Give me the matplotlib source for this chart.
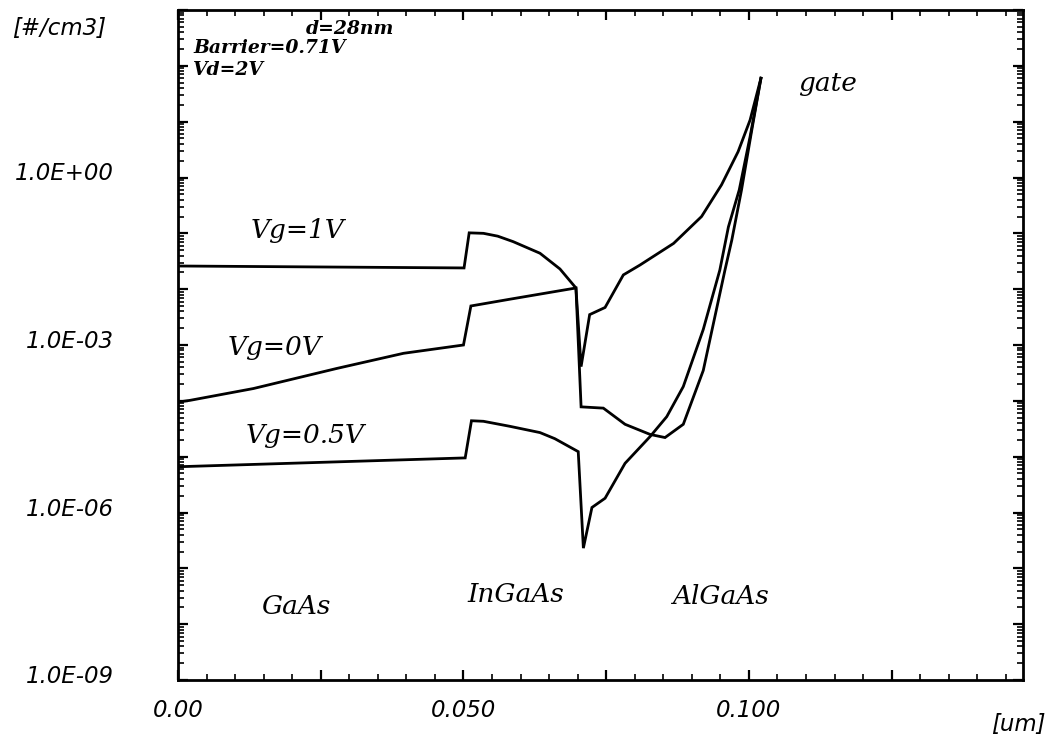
import matplotlib
matplotlib.use("Agg")
import matplotlib.pyplot as plt
from matplotlib.ticker import FixedLocator, FixedFormatter, MultipleLocator, LogLocator, NullFormatter
from matplotlib.transforms import ScaledTranslation

# ---- data (position in um, electron density in #/cm3) ----
x_vg1 = [0.0, 0.0501, 0.0510, 0.0535, 0.0560, 0.0587, 0.0634, 0.0669, 0.0697,
         0.0706, 0.0721, 0.0748, 0.0780, 0.0809, 0.0868, 0.0917, 0.0952, 0.0981,
         0.1002, 0.1021]
n_vg1 = [2.6e-2, 2.4e-2, 1.02e-1, 1.0e-1, 8.9e-2, 7.1e-2, 4.4e-2, 2.3e-2, 1.05e-2,
         4.1e-4, 3.5e-3, 4.7e-3, 1.8e-2, 2.7e-2, 6.6e-2, 2.0e-1, 7.4e-1, 2.9,
         10.7, 60.0]

x_vg0 = [0.0, 0.0021, 0.0132, 0.0278, 0.0395, 0.0500, 0.0513, 0.0581, 0.0697,
         0.0706, 0.0745, 0.0783, 0.0827, 0.0853, 0.0885, 0.0920, 0.0958, 0.0970,
         0.0987, 0.1005, 0.1021]
n_vg0 = [9.5e-5, 1.02e-4, 1.66e-4, 3.8e-4, 7.1e-4, 1.0e-3, 5.0e-3, 6.6e-3, 1.05e-2,
         7.8e-5, 7.4e-5, 3.8e-5, 2.5e-5, 2.2e-5, 3.8e-5, 3.5e-4, 2.2e-2, 7.6e-2,
         6.0e-1, 7.1, 60.0]

x_vg05 = [0.0, 0.0503, 0.0514, 0.0535, 0.0581, 0.0634, 0.0660, 0.0701, 0.0710,
          0.0725, 0.0748, 0.0783, 0.0827, 0.0856, 0.0885, 0.0920, 0.0949, 0.0964,
          0.0983, 0.1002, 0.1021]
n_vg05 = [6.6e-6, 9.5e-6, 4.4e-5, 4.3e-5, 3.5e-5, 2.7e-5, 2.1e-5, 1.23e-5, 2.3e-7,
          1.23e-6, 1.8e-6, 7.6e-6, 2.3e-5, 5.2e-5, 1.8e-4, 1.9e-3, 2.2e-2, 1.3e-1,
          6.0e-1, 5.4, 60.0]

ytick_vals = [1e-9, 1e-8, 1e-7, 1e-6, 1e-5, 1e-4, 1e-3, 1e-2, 1e-1, 1e0, 1e1, 1e2, 1e3]
ytick_labels = ["1.0E-09", "", "", "1.0E-06", "", "", "1.0E-03", "", "", "1.0E+00", "", "", ""]
xtick_vals = [0.0, 0.025, 0.05, 0.075, 0.1, 0.125]
xtick_labels = ["0.00", "", "0.050", "", "0.100", ""]

# ---- figure ----
W, H = 1052, 741
fig = plt.figure(figsize=(W / 100, H / 100), dpi=100)
ax = fig.add_axes([178 / W, 1 - 680 / H, 845 / W, 670 / H])

for xs, ns in ((x_vg1, n_vg1), (x_vg0, n_vg0), (x_vg05, n_vg05)):
    ax.plot(xs, ns, color="black", lw=2.0, solid_joinstyle="miter")

ax.set_yscale("log")
ax.set_xlim(0, 0.148)
ax.set_ylim(1e-9, 1e3)

ax.yaxis.set_major_locator(FixedLocator(ytick_vals))
ax.yaxis.set_major_formatter(FixedFormatter(ytick_labels))
ax.yaxis.set_minor_locator(LogLocator(base=10, subs=range(2, 10), numticks=50))
ax.yaxis.set_minor_formatter(NullFormatter())
ax.xaxis.set_major_locator(FixedLocator(xtick_vals))
ax.xaxis.set_major_formatter(FixedFormatter(xtick_labels))
ax.xaxis.set_minor_locator(MultipleLocator(0.005))

for s in ax.spines.values():
    s.set_linewidth(2.0)

ax.tick_params(which="both", direction="in", top=True, right=True, color="black")
ax.tick_params(which="major", length=7, width=1.6)
ax.tick_params(which="minor", length=4, width=1.2)
ax.tick_params(axis="y", which="major", pad=46)
ax.tick_params(axis="x", which="major", pad=14)

tick_font = dict(family="DejaVu Sans", style="oblique", size=16.5)
for lbl in ax.get_yticklabels() + ax.get_xticklabels():
    lbl.set_fontfamily("DejaVu Sans")
    lbl.set_fontstyle("oblique")
    lbl.set_fontsize(16.5)
for lbl in ax.get_yticklabels():
    lbl.set_transform(lbl.get_transform() + ScaledTranslation(0, 6 / 100, fig.dpi_scale_trans))


def fpos(px, py):
    return px / W, 1 - py / H


fig.text(*fpos(12, 29), "[#/cm3]", ha="left", va="center", **tick_font)
fig.text(*fpos(1046, 725), "[um]", ha="right", va="center", **tick_font)

bold_font = dict(family="DejaVu Serif", style="italic", weight="bold", size=13.5)
fig.text(*fpos(350, 29), "d=28nm", ha="center", va="center", **bold_font)
fig.text(*fpos(193, 48), "Barrier=0.71V", ha="left", va="center", **bold_font)
fig.text(*fpos(193, 70), "Vd=2V", ha="left", va="center", **bold_font)

lab_font = dict(family="DejaVu Serif", style="italic", size=19)
fig.text(*fpos(298, 231), "Vg=1V", ha="center", va="center", **lab_font)
fig.text(*fpos(275, 347), "Vg=0V", ha="center", va="center", **lab_font)
fig.text(*fpos(305, 436), "Vg=0.5V", ha="center", va="center", **lab_font)
fig.text(*fpos(296, 606), "GaAs", ha="center", va="center", **lab_font)
fig.text(*fpos(516, 594), "InGaAs", ha="center", va="center", **lab_font)
fig.text(*fpos(720, 597), "AlGaAs", ha="center", va="center", **lab_font)
fig.text(*fpos(828, 84), "gate", ha="center", va="center", **lab_font)

fig.savefig("out.png", dpi=100, facecolor="white")
